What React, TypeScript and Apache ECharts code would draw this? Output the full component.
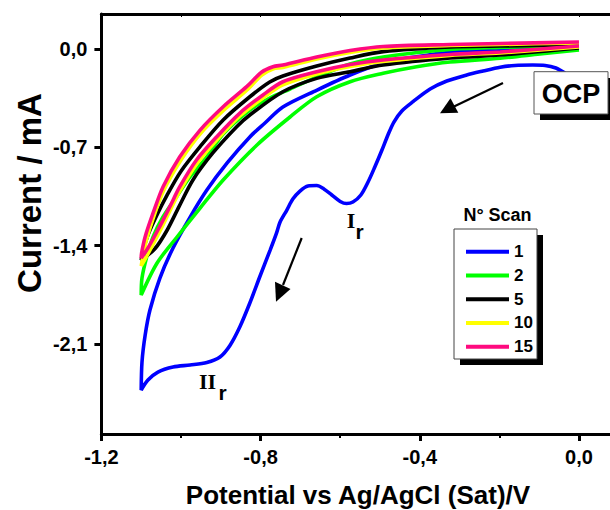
import React, { useEffect, useRef } from "react";
import * as echarts from "echarts";

const scanNames = ["1", "2", "5", "10", "15"];
const scanColors = ["#0000ff", "#00ff00", "#000000", "#ffff00", "#ff0a7f"];
const xTickValues = [-1.2, -0.8, -0.4, 0.0];
const xMinorTickValues = [-1.0, -0.6, -0.2];
const xTopTickValues = [-1.2, -1.0, -0.8, -0.6, -0.4, -0.2, 0.0];
const yTickValues = [0.0, -0.7, -1.4, -2.1];

// Scan 1 (blue)
const scan1Potential = [-0.035, -0.058, -0.085, -0.116, -0.161, -0.198, -0.241, -0.282, -0.332, -0.374, -0.417, -0.445, -0.465, -0.48, -0.495, -0.513, -0.53, -0.548, -0.568, -0.584, -0.6, -0.621, -0.641, -0.659, -0.681, -0.701, -0.719, -0.734, -0.751, -0.76, -0.776, -0.802, -0.827, -0.852, -0.877, -0.902, -0.935, -0.977, -1.02, -1.058, -1.083, -1.1, -1.098, -1.09, -1.078, -1.053, -1.02, -0.977, -0.935, -0.884, -0.827, -0.789, -0.744, -0.658, -0.575, -0.492, -0.408, -0.324, -0.198, -0.098, 0.0];
const scan1Current = [-0.171, -0.135, -0.117, -0.114, -0.117, -0.13, -0.157, -0.185, -0.228, -0.285, -0.375, -0.441, -0.52, -0.612, -0.719, -0.84, -0.947, -1.039, -1.089, -1.1, -1.085, -1.039, -0.996, -0.972, -0.975, -1.011, -1.068, -1.146, -1.231, -1.31, -1.431, -1.621, -1.808, -1.977, -2.11, -2.192, -2.231, -2.249, -2.263, -2.299, -2.356, -2.427, -2.228, -2.036, -1.858, -1.63, -1.416, -1.196, -1.004, -0.811, -0.626, -0.527, -0.413, -0.292, -0.185, -0.1, -0.055, -0.023, -0.005, 0.007, 0.018];

// Scan 2 (green)
const scan2Potential = [0.0, -0.098, -0.198, -0.324, -0.408, -0.492, -0.575, -0.659, -0.726, -0.809, -0.894, -0.952, -1.01, -1.06, -1.1, -1.098, -1.086, -1.07, -1.045, -1.011, -0.977, -0.935, -0.894, -0.827, -0.777, -0.726, -0.658, -0.575, -0.492, -0.324, -0.198, 0.0];
const scan2Current = [-0.007, -0.036, -0.066, -0.093, -0.126, -0.173, -0.233, -0.34, -0.484, -0.683, -0.932, -1.132, -1.338, -1.523, -1.751, -1.63, -1.478, -1.336, -1.194, -1.051, -0.909, -0.767, -0.605, -0.434, -0.349, -0.285, -0.199, -0.107, -0.057, -0.004, 0.011, 0.028];

// Scan 5 (black)
const scan5Potential = [0.0, -0.198, -0.324, -0.492, -0.575, -0.659, -0.744, -0.827, -0.86, -0.92, -0.97, -1.005, -1.035, -1.065, -1.1, -1.095, -1.083, -1.062, -1.035, -1.0, -0.952, -0.894, -0.827, -0.777, -0.744, -0.659, -0.575, -0.492, -0.324, -0.198, 0.0];
const scan5Current = [0.007, -0.043, -0.064, -0.114, -0.162, -0.209, -0.304, -0.47, -0.553, -0.74, -0.932, -1.122, -1.29, -1.42, -1.502, -1.431, -1.324, -1.19, -1.04, -0.87, -0.695, -0.505, -0.34, -0.235, -0.192, -0.121, -0.064, -0.019, 0.014, 0.021, 0.032];

// Scan 10 (yellow)
const scan10Potential = [0.0, -0.198, -0.324, -0.492, -0.575, -0.659, -0.744, -0.794, -0.852, -0.91, -0.961, -1.003, -1.028, -1.058, -1.083, -1.1, -1.095, -1.086, -1.068, -1.043, -1.0, -0.95, -0.892, -0.834, -0.797, -0.769, -0.744, -0.659, -0.575, -0.492, -0.324, -0.198, 0.0];
const scan10Current = [0.014, -0.028, -0.046, -0.089, -0.125, -0.178, -0.256, -0.349, -0.477, -0.648, -0.819, -1.011, -1.153, -1.324, -1.459, -1.544, -1.466, -1.35, -1.189, -1.004, -0.79, -0.598, -0.434, -0.292, -0.185, -0.142, -0.132, -0.071, -0.025, 0.007, 0.025, 0.032, 0.043];

// Scan 15 (pink)
const scan15Potential = [0.0, -0.198, -0.324, -0.492, -0.575, -0.659, -0.744, -0.794, -0.852, -0.91, -0.961, -1.003, -1.028, -1.058, -1.083, -1.1, -1.099, -1.09, -1.07, -1.045, -1.003, -0.952, -0.894, -0.835, -0.797, -0.769, -0.744, -0.659, -0.575, -0.492, -0.324, -0.198, 0.0];
const scan15Current = [0.021, -0.021, -0.039, -0.078, -0.11, -0.162, -0.233, -0.327, -0.456, -0.624, -0.79, -0.98, -1.122, -1.288, -1.416, -1.488, -1.452, -1.336, -1.167, -0.98, -0.767, -0.577, -0.411, -0.268, -0.164, -0.126, -0.114, -0.057, -0.011, 0.018, 0.032, 0.039, 0.05];

const scanPotentials = [scan1Potential, scan2Potential, scan5Potential, scan10Potential, scan15Potential];
const scanCurrents = [scan1Current, scan2Current, scan5Current, scan10Current, scan15Current];

const FONT = "'Liberation Sans', Arial, sans-serif";
const SERIF = "'Liberation Serif', 'DejaVu Serif', serif";
const X_MIN = -1.2;
const X_MAX = 0.078;
const Y_MIN = -2.74;
const Y_MAX = 0.249;

const fmt = (v: number) => (Math.abs(v) < 1e-9 ? "0,0" : v.toFixed(1).replace(".", ","));

export default function App() {
  const ref = useRef<HTMLDivElement>(null);
  useEffect(() => {
    if (!ref.current) return;
    const chart = echarts.init(ref.current, undefined, { renderer: "svg" });
    const series = scanNames.map((name, i) => ({
      name,
      type: "line",
      xAxisIndex: 0,
      yAxisIndex: 0,
      data: scanPotentials[i].map((p, k) => [p, scanCurrents[i][k]]),
      showSymbol: false,
      symbol: "none",
      smooth: 0.3,
      color: scanColors[i],
      lineStyle: { color: scanColors[i], width: 3.6 },
      z: 2,
    }));
    const option: any = {
      animation: false,
      grid: { left: 101.4, right: 0, top: 14, bottom: 76, containLabel: false },
      xAxis: [
        {
          type: "value",
          min: X_MIN,
          max: X_MAX,
          position: "bottom",
          axisLine: { show: true, onZero: false, lineStyle: { color: "#000", width: 3 } },
          axisTick: { show: true, inside: false, length: 7, customValues: xTickValues, lineStyle: { color: "#000", width: 3 } },
          axisLabel: {
            customValues: xTickValues,
            formatter: fmt,
            margin: 13,
            color: "#000",
            fontSize: 20,
            fontWeight: "bold",
            fontFamily: FONT,
          },
          splitLine: { show: false },
        },
        {
          type: "value",
          min: X_MIN,
          max: X_MAX,
          position: "bottom",
          axisLine: { show: false, onZero: false },
          axisTick: { show: true, inside: false, length: 4, customValues: xMinorTickValues, lineStyle: { color: "#000", width: 2 } },
          axisLabel: { show: false },
          splitLine: { show: false },
        },
        {
          type: "value",
          min: X_MIN,
          max: X_MAX,
          position: "top",
          axisLine: { show: true, onZero: false, lineStyle: { color: "#000", width: 3 } },
          axisTick: { show: true, inside: true, length: 3, customValues: xTopTickValues, lineStyle: { color: "#000", width: 1 } },
          axisLabel: { show: false },
          splitLine: { show: false },
        },
      ],
      yAxis: [
        {
          type: "value",
          min: Y_MIN,
          max: Y_MAX,
          position: "left",
          axisLine: { show: true, onZero: false, lineStyle: { color: "#000", width: 3 } },
          axisTick: { show: true, inside: false, length: 7, customValues: yTickValues, lineStyle: { color: "#000", width: 3 } },
          axisLabel: {
            customValues: yTickValues,
            formatter: fmt,
            margin: 14,
            color: "#000",
            fontSize: 20,
            fontWeight: "bold",
            fontFamily: FONT,
          },
          splitLine: { show: false },
        },
      ],
      legend: {
        data: scanNames,
        orient: "vertical",
        left: 461,
        top: 237.7,
        icon: "rect",
        itemWidth: 43,
        itemHeight: 4,
        itemGap: 5.75,
        z: 6,
        textStyle: { color: "#000", fontSize: 17, fontWeight: "bold", fontFamily: FONT, lineHeight: 18, padding: [0, 0, 0, 0] },
        selectedMode: false,
      },
      graphic: [
        // legend box
        { type: "rect", z: 4, shape: { x: 460, y: 235, width: 83, height: 130 }, style: { fill: "#000" } },
        { type: "rect", z: 4, shape: { x: 454, y: 229, width: 83, height: 130 }, style: { fill: "#fff", stroke: "#444", lineWidth: 1 } },
        {
          type: "text", z: 5, x: 497.5, y: 215,
          style: { text: "N° Scan", fill: "#000", fontSize: 18, fontWeight: "bold", fontFamily: FONT, textAlign: "center", textVerticalAlign: "middle" },
        },
        // OCP box
        { type: "rect", z: 4, shape: { x: 540, y: 78, width: 76, height: 42 }, style: { fill: "#000" } },
        { type: "rect", z: 4, shape: { x: 534, y: 71.7, width: 74, height: 42.3 }, style: { fill: "#fff", stroke: "#555", lineWidth: 1 } },
        {
          type: "text", z: 5, x: 571, y: 93.5,
          style: { text: "OCP", fill: "#000", fontSize: 27, fontWeight: "bold", fontFamily: FONT, textAlign: "center", textVerticalAlign: "middle" },
        },
        // arrows
        { type: "line", z: 4, shape: { x1: 503, y1: 83, x2: 453, y2: 107 }, style: { stroke: "#000", lineWidth: 2.2 } },
        { type: "polygon", z: 4, shape: { points: [[440, 113.3], [458.3, 112.7], [450.5, 98.3]] }, style: { fill: "#000" } },
        { type: "line", z: 4, shape: { x1: 301.7, y1: 238, x2: 283, y2: 285 }, style: { stroke: "#000", lineWidth: 2.2 } },
        { type: "polygon", z: 4, shape: { points: [[276, 301.7], [275, 281.7], [290.5, 289]] }, style: { fill: "#000" } },
        // peak labels
        {
          type: "text", z: 5, x: 351, y: 220,
          style: { text: "I", fill: "#000", fontSize: 22, fontWeight: "bold", fontFamily: SERIF, textAlign: "center", textVerticalAlign: "middle" },
        },
        {
          type: "text", z: 5, x: 359.5, y: 231,
          style: { text: "r", fill: "#000", fontSize: 21, fontWeight: "bold", fontFamily: FONT, textAlign: "center", textVerticalAlign: "middle" },
        },
        {
          type: "text", z: 5, x: 207.5, y: 381,
          style: { text: "II", fill: "#000", fontSize: 22, fontWeight: "bold", fontFamily: SERIF, textAlign: "center", textVerticalAlign: "middle" },
        },
        {
          type: "text", z: 5, x: 222.5, y: 392,
          style: { text: "r", fill: "#000", fontSize: 21, fontWeight: "bold", fontFamily: FONT, textAlign: "center", textVerticalAlign: "middle" },
        },
        // axis titles
        {
          type: "text", z: 5, x: 29, y: 193, rotation: Math.PI / 2,
          style: { text: "Current / mA", fill: "#000", fontSize: 33, fontWeight: "bold", fontFamily: FONT, textAlign: "center", textVerticalAlign: "middle" },
        },
        {
          type: "text", z: 5, x: 358, y: 495,
          style: { text: "Potential vs Ag/AgCl (Sat)/V", fill: "#000", fontSize: 26, fontWeight: "bold", fontFamily: FONT, textAlign: "center", textVerticalAlign: "middle" },
        },
      ],
      series,
    };
    chart.setOption(option);
    return () => chart.dispose();
  }, []);
  return (
    <div
      ref={ref}
      style={{ position: "absolute", left: 0, top: 0, width: 610, height: 510, background: "#fff" }}
    />
  );
}
